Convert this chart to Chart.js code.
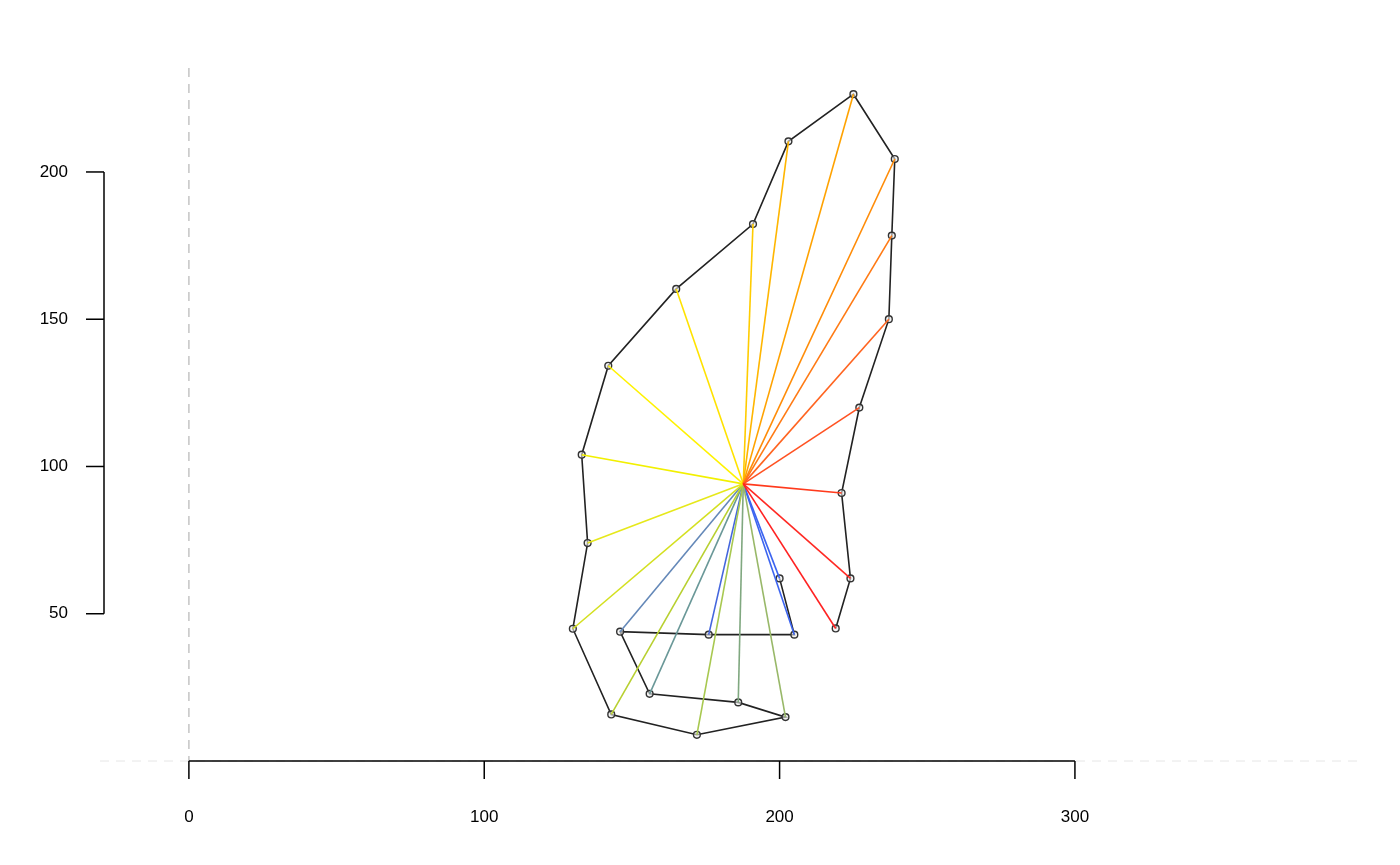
<!DOCTYPE html>
<html>
<head>
<meta charset="utf-8">
<script src="https://cdn.jsdelivr.net/npm/chart.js@4.4.1/dist/chart.umd.min.js"></script>
<style>
  html, body { margin: 0; padding: 0; background: #fff; }
  #wrap { width: 1400px; height: 865px; }
</style>
</head>
<body>
<div id="wrap"><canvas id="shapeChart" width="1400" height="865"></canvas></div>
<script>
// Landmark coordinates, in outline order
const lmX = [219, 224, 221, 227, 237, 238, 239, 225, 203, 191, 165, 142,
             133, 135, 130, 143, 172, 202, 186, 156, 146, 176, 205, 200];
const lmY = [45, 62, 91, 120, 150, 178.4, 204.4, 226.4, 210.4, 182.3, 160.3, 134.2,
             104, 74, 44.9, 15.8, 8.9, 14.9, 19.9, 22.8, 43.9, 42.9, 42.9, 62];

// Centroid the rays start from
const centreX = 187.7;
const centreY = 94.1;

// Ray colours, one per landmark
const rayColours = ['#ff2222', '#ff2a24', '#ff3a1c', '#ff5222', '#ff6420', '#ff7a14',
                    '#ff8c08', '#ffa200', '#ffb600', '#ffcc00', '#ffe200', '#fff200',
                    '#f2f000', '#e6e81a', '#d4e020', '#b8d030', '#a8c850', '#98b868',
                    '#80a880', '#6a9898', '#6488b8', '#4466dd', '#3c64f0', '#3c64f0'];

// Axis tick labels
const xTicks = [0, 100, 200, 300];
const yTicks = [50, 100, 150, 200];

// ---- datasets ----
let datasets = [];

// rays from centroid to every landmark
for (let i = 0; i < lmX.length; i++) {
  datasets.push({
    type: 'line',
    data: [{x: centreX, y: centreY}, {x: lmX[i], y: lmY[i]}],
    borderColor: rayColours[i],
    borderWidth: 1.6,
    pointRadius: 0,
    order: 0
  });
}

// black outline through the landmarks
let outline = [];
for (let i = 0; i < lmX.length; i++) {
  outline.push({x: lmX[i], y: lmY[i]});
}
datasets.push({
  type: 'line',
  data: outline,
  borderColor: '#222222',
  borderWidth: 1.6,
  pointRadius: 0,
  order: 2
});

// landmark points (open rings)
datasets.push({
  type: 'scatter',
  data: outline,
  pointRadius: 3.4,
  pointBorderWidth: 1.4,
  pointBorderColor: '#333333',
  pointBackgroundColor: 'rgba(235,235,235,0.6)',
  order: 1
});

// Reference lines and R-style axes drawn with the chart scales
const axesPlugin = {
  id: 'rAxes',
  beforeDatasetsDraw(chart) {
    let ctx = chart.ctx;
    let xs = chart.scales.x;
    let ys = chart.scales.y;
    let area = chart.chartArea;
    ctx.save();
    // light dashed line at y = 0
    ctx.strokeStyle = '#e6e6e6';
    ctx.lineWidth = 1;
    ctx.setLineDash([9, 7]);
    ctx.beginPath();
    ctx.moveTo(area.left, ys.getPixelForValue(0));
    ctx.lineTo(area.right, ys.getPixelForValue(0));
    ctx.stroke();
    // grey dashed line at x = 0
    ctx.strokeStyle = '#c4c4c4';
    ctx.lineWidth = 1.5;
    ctx.beginPath();
    ctx.moveTo(xs.getPixelForValue(0), area.top);
    ctx.lineTo(xs.getPixelForValue(0), area.bottom);
    ctx.stroke();
    ctx.setLineDash([]);

    ctx.strokeStyle = '#000';
    ctx.fillStyle = '#000';
    ctx.lineWidth = 1.5;
    ctx.font = '17px "Liberation Sans", Arial, sans-serif';

    // x axis
    let ax = area.bottom;
    ctx.beginPath();
    ctx.moveTo(xs.getPixelForValue(xTicks[0]), ax);
    ctx.lineTo(xs.getPixelForValue(xTicks[xTicks.length - 1]), ax);
    ctx.stroke();
    ctx.textAlign = 'center';
    ctx.textBaseline = 'middle';
    xTicks.forEach(function (t) {
      let px = xs.getPixelForValue(t);
      ctx.beginPath();
      ctx.moveTo(px, ax);
      ctx.lineTo(px, ax + 18);
      ctx.stroke();
      ctx.fillText(String(t), px, ax + 56);
    });

    // y axis
    let ay = area.left + 4;
    ctx.beginPath();
    ctx.moveTo(ay, ys.getPixelForValue(yTicks[0]));
    ctx.lineTo(ay, ys.getPixelForValue(yTicks[yTicks.length - 1]));
    ctx.stroke();
    ctx.textAlign = 'right';
    yTicks.forEach(function (t) {
      let py = ys.getPixelForValue(t);
      ctx.beginPath();
      ctx.moveTo(ay, py);
      ctx.lineTo(ay - 18, py);
      ctx.stroke();
      ctx.fillText(String(t), ay - 36, py);
    });
    ctx.restore();
  }
};

new Chart(document.getElementById('shapeChart'), {
  type: 'scatter',
  data: { datasets: datasets },
  options: {
    responsive: false,
    animation: false,
    devicePixelRatio: 1,
    clip: false,
    layout: { padding: { left: 100, right: 38, top: 68, bottom: 104 } },
    plugins: { legend: { display: false }, tooltip: { enabled: false } },
    scales: {
      x: { type: 'linear', min: -30.1, max: 397.2, display: false },
      y: { type: 'linear', min: 0, max: 235.3, display: false }
    }
  },
  plugins: [axesPlugin]
});
</script>
</body>
</html>
